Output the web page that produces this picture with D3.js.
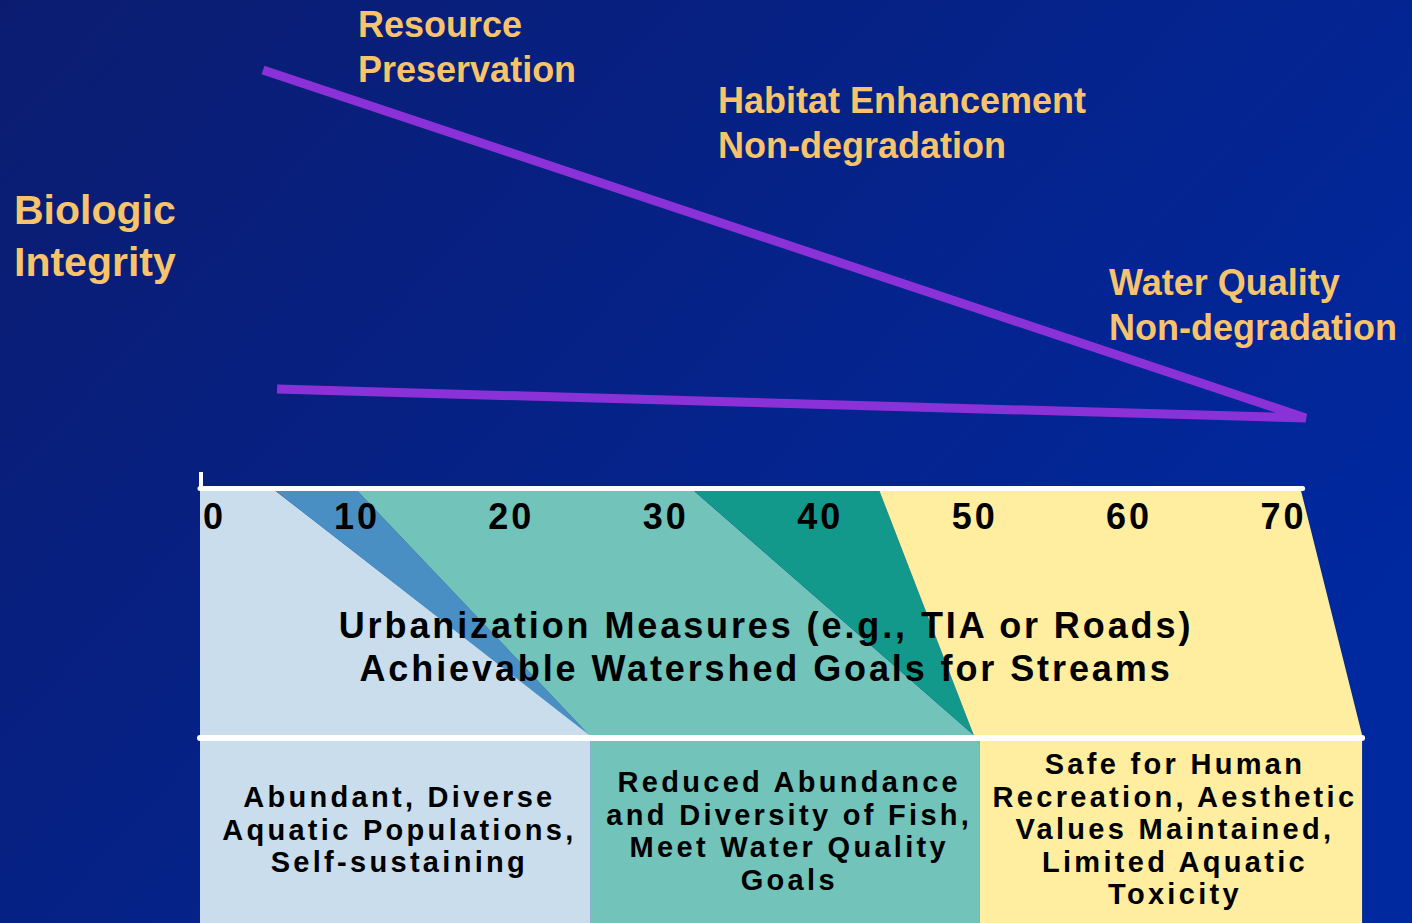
<!DOCTYPE html>
<html>
<head>
<meta charset="utf-8">
<script src="https://cdn.jsdelivr.net/npm/d3@7"></script>
<style>
  html, body { margin: 0; padding: 0; background: #001f85; overflow: hidden; }
  svg text { font-family: "Liberation Sans", Arial, sans-serif; font-weight: bold; }
</style>
</head>
<body>
<div id="chart"></div>
<script>
// urbanization measure (e.g. % TIA) tick labels
const ticks = [0, 10, 20, 30, 40, 50, 60, 70];
const axisEnd = 71.4;

// colour zones of the upper band: x-range at top edge and at bottom edge
const zoneNames = ["natural", "transition", "impacted", "transition2", "degraded"];
const zoneTop = [[0, 4.9], [4.9, 10.2], [10.2, 32], [32, 44], [44, 71.3]];
const zoneBottom = [[0, 25.3], [25.2, 25.2], [25.2, 50.1], [50.1, 50.1], [50.1, 75.25]];
const zoneColors = ["#c9ddec", "#4a8fc4", "#72c3b9", "#13998b", "#ffee9f"];

// goal boxes along the bottom
const goalRanges = [[0, 25.3], [25.3, 50.5], [50.5, 75.25]];
const goalColors = ["#c9ddec", "#72c3b9", "#ffee9f"];
const goalLines = [
  ["Abundant, Diverse", "Aquatic Populations,", "Self-sustaining"],
  ["Reduced Abundance", "and Diversity of Fish,", "Meet Water Quality", "Goals"],
  ["Safe for Human", "Recreation, Aesthetic", "Values Maintained,", "Limited Aquatic", "Toxicity"]
];

// biologic integrity envelope (x = urbanization, y = integrity index)
const upperLine = [[4.08, 100], [71.6, 0]];
const lowerLine = [[71.6, 0], [4.99, 8.3]];

const titleLines = ["Urbanization Measures (e.g., TIA or Roads)", "Achievable Watershed Goals for Streams"];
const yAxisLabel = ["Biologic", "Integrity"];
const goalLabels = [
  ["Resource", "Preservation"],
  ["Habitat Enhancement", "Non-degradation"],
  ["Water Quality", "Non-degradation"]
];

const width = 1412, height = 923;

const svg = d3.select("#chart").append("svg")
  .attr("width", width)
  .attr("height", height);

const defs = svg.append("defs");
const grad = defs.append("linearGradient")
  .attr("id", "bg")
  .attr("x1", "0%").attr("y1", "0%")
  .attr("x2", "100%").attr("y2", "60%");
grad.append("stop").attr("offset", "0%").attr("stop-color", "#0b1c70");
grad.append("stop").attr("offset", "100%").attr("stop-color", "#00289f");

svg.append("rect")
  .attr("width", width)
  .attr("height", height)
  .attr("fill", "url(#bg)");

let x = d3.scaleLinear().domain([0, 70]).range([200, 1281]);
let band = d3.scaleLinear().domain([0, 1]).range([491, 735]);
let yInt = d3.scaleLinear().domain([0, 100]).range([418, 70]);

// upper band zones
svg.selectAll("path.zone")
  .data(zoneNames)
  .enter().append("path")
  .attr("class", "zone")
  .attr("fill", (d, i) => zoneColors[i])
  .attr("d", (d, i) => {
    let t = zoneTop[i], b = zoneBottom[i];
    return "M" + x(t[0]) + "," + band(0) +
      "L" + x(t[1]) + "," + band(0) +
      "L" + x(b[1]) + "," + band(1) +
      "L" + x(b[0]) + "," + band(1) + "Z";
  });

// goal boxes
svg.selectAll("rect.goal")
  .data(goalRanges)
  .enter().append("rect")
  .attr("class", "goal")
  .attr("x", d => x(d[0]))
  .attr("y", 741)
  .attr("width", d => x(d[1]) - x(d[0]))
  .attr("height", height - 741)
  .attr("fill", (d, i) => goalColors[i]);

// white axis line and separator
svg.append("line")
  .attr("x1", x(0)).attr("x2", x(axisEnd))
  .attr("y1", 488.5).attr("y2", 488.5)
  .style("stroke", "#fff")
  .style("stroke-width", 5)
  .style("stroke-linecap", "round");

svg.append("line")
  .attr("x1", x(0) + 1).attr("x2", x(0) + 1)
  .attr("y1", 472).attr("y2", 490)
  .style("stroke", "#fff")
  .style("stroke-width", 4);

svg.append("line")
  .attr("x1", x(0)).attr("x2", x(goalRanges[2][1]))
  .attr("y1", 738).attr("y2", 738)
  .style("stroke", "#fff")
  .style("stroke-width", 6)
  .style("stroke-linecap", "round");

// tick labels
let xAxis = d3.axisBottom(x).tickValues(ticks).tickSize(0).tickPadding(0);
let axisG = svg.append("g")
  .attr("class", "x axis")
  .attr("transform", "translate(0,529)")
  .call(xAxis);
axisG.select(".domain").remove();
axisG.selectAll("text")
  .attr("y", 0)
  .attr("dy", 0)
  .attr("dx", d => d === 0 ? 14 : 2)
  .style("font-size", "36px")
  .style("letter-spacing", "3px")
  .style("font-family", "'Liberation Sans', Arial, sans-serif")
  .style("font-weight", "bold")
  .attr("fill", "#000");

// band title
svg.selectAll("text.title")
  .data(titleLines)
  .enter().append("text")
  .attr("class", "title")
  .attr("x", 766)
  .attr("y", (d, i) => 638 + i * 43)
  .attr("text-anchor", "middle")
  .style("font-size", "36px")
  .style("letter-spacing", "2.9px")
  .attr("fill", "#000")
  .text(d => d);

// goal box texts
const goalCentres = goalRanges.map(d => (x(d[0]) + x(d[1])) / 2 + 4);
const goalFirstBaseline = [807, 792, 774];
goalLines.forEach((lines, gi) => {
  svg.selectAll("text.goal" + gi)
    .data(lines)
    .enter().append("text")
    .attr("class", "goal" + gi)
    .attr("x", goalCentres[gi])
    .attr("y", (d, i) => goalFirstBaseline[gi] + i * 32.5)
    .attr("text-anchor", "middle")
    .style("font-size", "29px")
    .style("letter-spacing", "3.3px")
    .attr("fill", "#000")
    .text(d => d);
});

// integrity envelope
let line = d3.line()
  .x(d => x(d[0]))
  .y(d => yInt(d[1]));

svg.append("path")
  .attr("d", line(upperLine.concat(lowerLine.slice(1))))
  .style("fill", "none")
  .style("stroke", "#8b31d8")
  .style("stroke-width", 9)
  .style("stroke-linejoin", "bevel");

// orange labels
const orange = "#f7c46c";
svg.selectAll("text.ylab")
  .data(yAxisLabel)
  .enter().append("text")
  .attr("class", "ylab")
  .attr("x", 14)
  .attr("y", (d, i) => 224 + i * 52)
  .style("font-size", "41px")
  .attr("fill", orange)
  .text(d => d);

const labelPos = [[358, 37], [718, 113], [1109, 295]];
goalLabels.forEach((lines, gi) => {
  svg.selectAll("text.lab" + gi)
    .data(lines)
    .enter().append("text")
    .attr("class", "lab" + gi)
    .attr("x", labelPos[gi][0])
    .attr("y", (d, i) => labelPos[gi][1] + i * 44.5)
    .style("font-size", "36px")
    .attr("fill", orange)
    .text(d => d);
});
</script>
</body>
</html>
